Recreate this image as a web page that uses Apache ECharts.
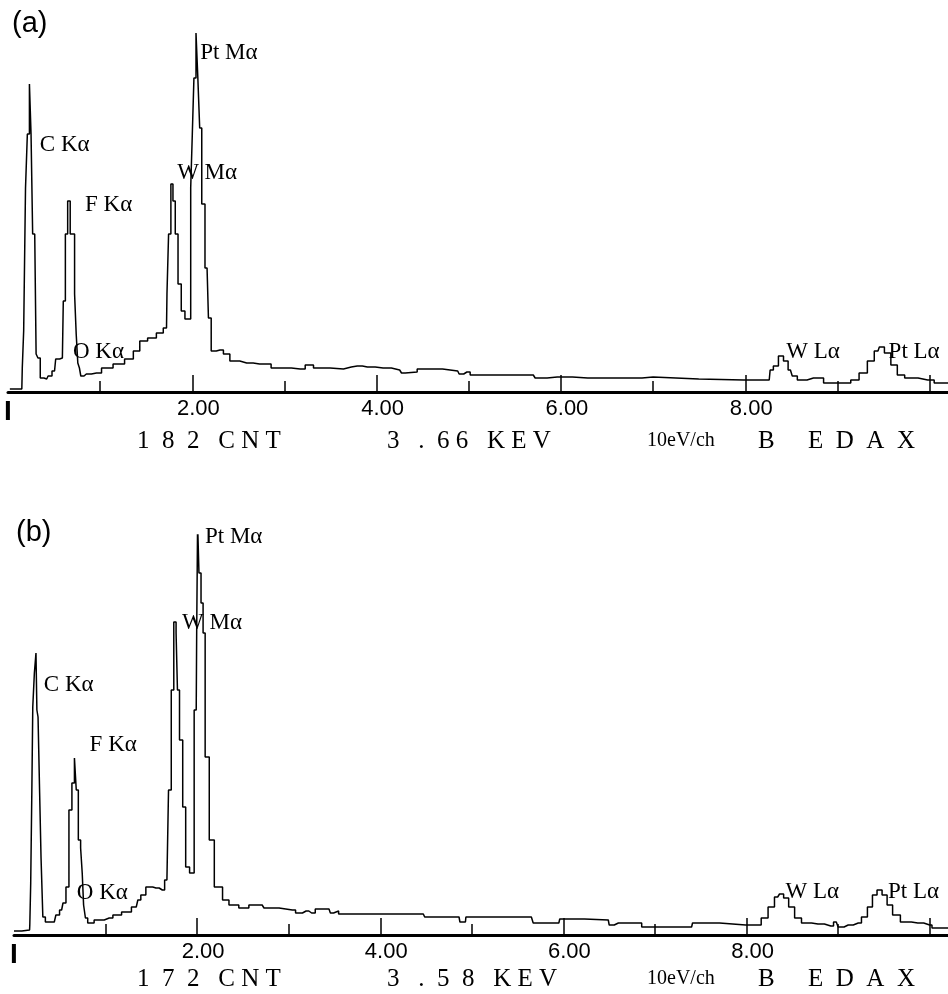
<!DOCTYPE html>
<html>
<head>
<meta charset="utf-8">
<script src="https://cdn.jsdelivr.net/npm/echarts@6/dist/echarts.min.js"></script>
<style>html,body{margin:0;padding:0;background:#fff}#c{width:948px;height:994px}</style>
</head>
<body>
<div id="c"></div>
<script>
// ---------- Data (energy in keV, intensity in arbitrary counts) ----------
const energyA = [0.02,0.15,0.16,0.18,0.20,0.22,0.245,0.255,0.28,0.30,0.31,0.34,0.36,0.42,0.45,0.505,0.53,0.59,0.61,0.635,0.66,0.69,0.71,0.735,0.745,0.77,0.78,0.80,0.85,0.96,1.07,1.21,1.32,1.40,1.46,1.57,1.65,1.72,1.73,1.755,1.78,1.80,1.83,1.86,1.90,1.94,1.97,1.995,2.005,2.03,2.05,2.07,2.09,2.115,2.16,2.19,2.22,2.30,2.375,2.44,2.59,2.73,2.98,3.17,3.28,3.35,3.64,3.66,3.79,3.90,4.07,4.25,4.29,4.33,4.55,4.88,4.91,4.98,5.05,5.70,5.74,5.96,6.29,6.76,7.00,7.01,7.98,8.26,8.28,8.33,8.39,8.44,8.49,8.53,8.60,8.74,8.96,9.11,9.18,9.29,9.36,9.44,9.47,9.55,9.61,9.69,9.77,9.98,10.12,10.20];
const countsA = [3,3,24,61,204,258,308,258,158,158,38,34,14,13,16,21,33,34,91,158,191,158,158,98,58,29,24,16,18,19,24,28,33,41,51,54,59,64,98,158,208,191,158,108,81,73,73,204,258,314,359,314,264,188,124,74,41,42,38,31,29,28,24,23,27,24,23,25,26,25,24,22,19,20,23,21,18,20,17,17,14,15,14,14,15,13,12,12,22,26,36,31,22,16,12,14,9,9,12,19,31,41,45,39,27,17,14,12,9,9];

const energyB = [0.0,0.17,0.175,0.19,0.20,0.21,0.235,0.245,0.255,0.27,0.29,0.30,0.33,0.355,0.44,0.475,0.52,0.55,0.585,0.615,0.65,0.67,0.69,0.715,0.74,0.75,0.77,0.79,0.82,0.93,1.04,1.12,1.23,1.335,1.37,1.40,1.48,1.55,1.62,1.67,1.705,1.73,1.76,1.78,1.79,1.825,1.86,1.89,1.945,1.99,2.00,2.01,2.03,2.055,2.075,2.10,2.165,2.21,2.24,2.315,2.38,2.53,2.60,2.71,2.75,3.04,3.11,3.19,3.25,3.33,3.44,3.47,3.51,3.58,4.47,4.50,4.86,4.88,4.93,4.94,5.65,5.69,5.95,5.97,6.49,6.51,6.60,6.71,7.00,7.40,7.42,7.99,8.12,8.20,8.27,8.34,8.38,8.43,8.49,8.56,8.64,8.78,8.92,8.98,9.02,9.11,9.22,9.29,9.35,9.40,9.45,9.51,9.56,9.63,9.73,9.87,10.00,10.05,10.20];
const countsB = [4,5,10,52,145,228,262,282,225,218,142,78,18,13,13,20,25,32,48,125,152,177,145,95,87,62,30,17,12,15,17,20,23,28,35,40,48,47,45,55,145,245,313,302,245,195,128,68,62,225,302,412,362,332,302,178,95,48,48,35,30,27,30,30,27,25,22,24,22,26,26,22,24,21,21,18,18,13,13,18,18,12,12,16,15,10,12,12,8,8,12,10,10,17,28,38,41,37,28,17,12,11,9,13,8,10,12,18,28,40,45,40,30,20,13,12,10,7,7];

// Peak annotations (label, energy keV, intensity where the label sits)
const peakNames   = ['Pt Mα','C Kα','W Mα','F Kα','O Kα','W Lα','Pt Lα'];
const peakEnergyA = [2.08, 0.34, 1.83, 0.83, 0.70, 8.44, 9.55];
const peakLevelA  = [339, 247, 219, 187, 40, 40, 40];
const peakEnergyB = [2.08, 0.32, 1.83, 0.82, 0.68, 8.42, 9.54];
const peakLevelB  = [398, 250, 312, 190, 42, 43, 43];

// Axis ticks / labels (keV)
const majorTicks = [2, 4, 6, 8, 10];
const minorTicks = [1, 3, 5, 7, 9];
const tickLabels = [0, 2, 4, 6, 8];

// Footer texts
const footerA = ['1  8  2   C N T', '3   .  6 6   K E V', '10eV/ch', 'B', 'E  D  A  X'];
const footerB = ['1  7  2   C N T', '3   .  5  8   K E V', '10eV/ch', 'B', 'E  D  A  X'];
const panelTags = ['(a)', '(b)'];

// ---------- Chart ----------
const SERIF = "'Liberation Serif', 'Times New Roman', serif";
const SANS = "'Liberation Sans', Arial, sans-serif";
const chart = echarts.init(document.getElementById('c'), null, {renderer: 'canvas'});

const grids = [
  {left: 8, top: 20, width: 940, height: 372},
  {left: 14, top: 535, width: 936, height: 400}
];
const yMax = [372, 400];

function mainX(g) {
  return {
    type: 'value', gridIndex: g, min: 0, max: 10.2, position: 'bottom',
    axisLine: {show: true, lineStyle: {color: '#000', width: 3}},
    axisTick: {show: true, inside: true, length: 17, customValues: majorTicks, lineStyle: {color: '#000', width: 1.5}},
    axisLabel: {
      show: true, customValues: tickLabels, margin: 6,
      formatter: v => v === 0 ? '{bar|I}' : '{n|' + v.toFixed(2) + '}',
      rich: {
        bar: {fontFamily: SANS, fontWeight: 'bold', fontSize: 28, color: '#000'},
        n: {fontFamily: SANS, fontSize: 22, color: '#000', padding: [0, 0, 0, 12]}
      }
    },
    splitLine: {show: false}
  };
}
function minorX(g) {
  return {
    type: 'value', gridIndex: g, min: 0, max: 10.2, position: 'bottom',
    axisLine: {show: false},
    axisTick: {show: true, inside: true, length: 11, customValues: minorTicks, lineStyle: {color: '#000', width: 1.5}},
    axisLabel: {show: false},
    splitLine: {show: false}
  };
}
function yAx(g) {
  return {type: 'value', gridIndex: g, min: 0, max: yMax[g], show: false, splitLine: {show: false}};
}
function spectrum(g, xs, ys, px, py) {
  return {
    type: 'line', xAxisIndex: g * 2, yAxisIndex: g,
    data: xs.map((x, i) => [x, ys[i]]),
    step: 'middle',
    showSymbol: false, symbol: 'none',
    lineStyle: {color: '#000', width: 1.5},
    z: 3,
    markPoint: {
      symbol: 'circle', symbolSize: 1,
      itemStyle: {color: 'rgba(0,0,0,0)'},
      label: {show: true, position: 'right', distance: 0, formatter: '{b}', color: '#000', fontFamily: SERIF, fontSize: 23},
      data: peakNames.map((n, i) => ({name: n, coord: [px[i], py[i]]}))
    }
  };
}
function footer(texts, y) {
  const xs = [137, 387, 647, 758, 808];
  return texts.map((t, i) => ({
    type: 'text', left: xs[i], top: y + (i === 2 ? 2 : 0),
    style: {text: t, fill: '#000', font: (i === 2 ? '20px ' : '25px ') + SERIF}
  }));
}

chart.setOption({
  animation: false,
  backgroundColor: '#fff',
  grid: grids,
  xAxis: [mainX(0), minorX(0), mainX(1), minorX(1)],
  yAxis: [yAx(0), yAx(1)],
  series: [
    spectrum(0, energyA, countsA, peakEnergyA, peakLevelA),
    spectrum(1, energyB, countsB, peakEnergyB, peakLevelB)
  ],
  graphic: [
    {type: 'text', left: 12, top: 9, style: {text: panelTags[0], fill: '#000', font: '29px ' + SANS}},
    {type: 'text', left: 16, top: 518, style: {text: panelTags[1], fill: '#000', font: '29px ' + SANS}}
  ].concat(footer(footerA, 429)).concat(footer(footerB, 967))
});
</script>
</body>
</html>
